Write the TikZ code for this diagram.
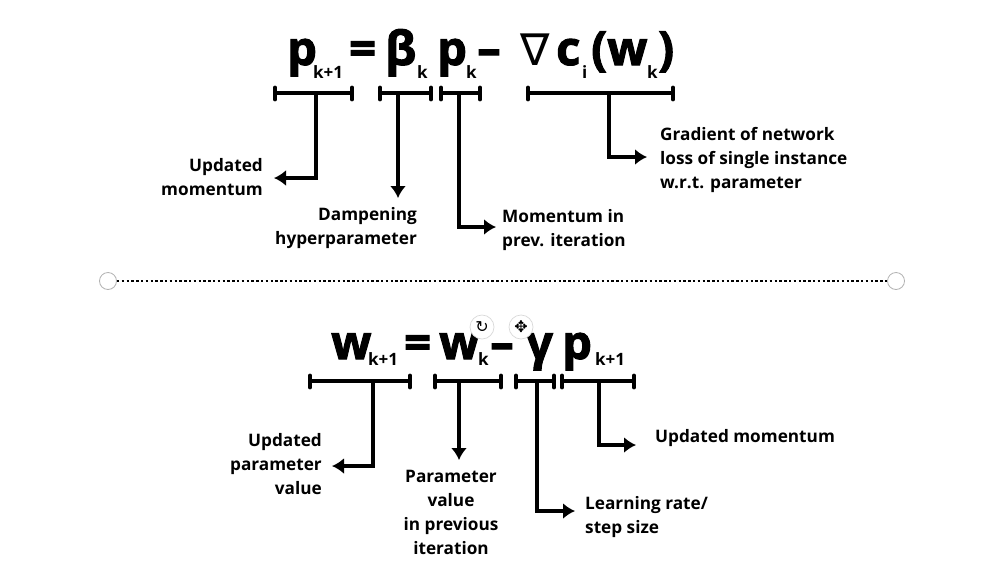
\documentclass[tikz,border=0pt]{standalone}
\usepackage{fontspec}
\usetikzlibrary{arrows.meta}
\setmainfont{Open Sans}
\newfontfamily\eqfont[BoldFeatures={FakeBold=2.2}]{Open Sans}
\newfontfamily\nablafont{DejaVu Sans}
\begin{document}
\begin{tikzpicture}[x=1pt,y=-1pt,
  eqbig/.style={inner sep=0pt,anchor=base west,font=\eqfont\bfseries\fontsize{47}{47}\selectfont,text=black},
  eqsub/.style={inner sep=0pt,anchor=base west,font=\bfseries\fontsize{17}{17}\selectfont,text=black},
  note/.style={inner sep=0pt,align=center,font=\bfseries\fontsize{17.2}{23.8}\selectfont,text=black},
  noteleft/.style={note,align=left},
  brace/.style={line width=3.6pt,black},
  tickmark/.style={line width=3.8pt,line cap=round,black},
  lead/.style={line width=3.8pt,black,-{Latex[length=12pt,width=16pt]}},
  handle/.style={circle,draw=black!15,fill=white,line width=0.7pt,minimum size=24pt,inner sep=0pt},
  endpt/.style={circle,draw=black!30,fill=white,line width=0.8pt,minimum size=17pt,inner sep=0pt}]
\useasboundingbox (0,0) rectangle (998,579);
\fill[white] (0,0) rectangle (998,579);
% ---- first equation
\node[eqbig] (p1) at (287,65) {p};
\node[eqsub] (s1) at (313,78) {k+1};
\node[eqbig] (e1) at (349,65) {=};
\node[eqbig] (b1) at (385,65) {β};
\node[eqsub] (s2) at (417,78) {k};
\node[eqbig] (p2) at (437,65) {p};
\node[eqsub] (s3) at (466,78) {k};
\node[eqbig] (m1) at (477,65) {–};
\node[inner sep=0pt,anchor=base west,font=\nablafont\fontsize{44}{44}\selectfont] (n1) at (520,65) {∇};
\node[eqbig] (c1) at (556,65) {c};
\node[eqsub] (s4) at (582,78) {i};
\node[eqbig] (l1) at (591,65) {(};
\node[eqbig] (w1) at (607,65) {w};
\node[eqsub] (s5) at (647,78) {k};
\node[eqbig] (r1) at (658,65) {)};
% brackets
\foreach \nm/\a/\b/\m in {a/275/352/316,b/380/431/398,c/441/480/459,d/528/673/609}{
  \coordinate (\nm L) at (\a,93); \coordinate (\nm R) at (\b,93); \coordinate (\nm M) at (\m,93);
  \draw[brace] (\nm L) -- (\nm R);
  \draw[tickmark] (\a,87.5) -- (\a,99.5);
  \draw[tickmark] (\b,87.5) -- (\b,99.5);
}
\node[note,align=right,anchor=east] (t1) at (263,177) {Updated\\momentum};
\node[note,align=right,anchor=east] (t2) at (417,228) {Dampening\\hyperparameter};
\node[noteleft,anchor=west] (t3) at (502,230) {Momentum in\\prev. iteration};
\node[noteleft,anchor=west] (t4) at (660,160) {Gradient of network\\loss of single instance\\w.r.t. parameter};
\coordinate (j1) at (316,178);
\coordinate (j3) at (459,227);
\coordinate (j4) at (609,157);
\draw[lead] (aM) -- (j1) -- (274,178);
\draw[lead] (bM) -- (398,198);
\draw[lead] (cM) -- (j3) -- (496,227);
\draw[lead] (dM) -- (j4) -- (647,157);
% ---- divider
\node[endpt] (dl) at (108,281) {};
\node[endpt] (dr) at (896,281) {};
\draw[line width=2.4pt,dash pattern=on 2.4pt off 2.4pt,black] (dl) -- (dr);
% ---- second equation
\node[eqbig] (w2) at (331,359) {w};
\node[eqsub] (s6) at (368,365) {k+1};
\node[eqbig] (e2) at (404,359) {=};
\node[eqbig] (w3) at (439,359) {w};
\node[eqsub] (s7) at (478,365) {k};
\node[eqbig] (m2) at (490,359) {–};
\node[eqbig] (g1) at (526,359) {γ};
\node[eqbig] (p3) at (562,359) {p};
\node[eqsub] (s8) at (595,365) {k+1};
\node[handle] (h1) at (482,327) {};
\node[handle] (h2) at (521,327) {};
\node[font=\nablafont\fontsize{16}{16}\selectfont,inner sep=0pt] (h1g) at (h1) {↻};
\node[font=\nablafont\fontsize{16}{16}\selectfont,inner sep=0pt] (h2g) at (h2) {✥};
\foreach \nm/\a/\b/\m in {e/310/410/373,f/435/501/459,g/516/554/537,h/562/634/599}{
  \coordinate (\nm L) at (\a,381); \coordinate (\nm R) at (\b,381); \coordinate (\nm M) at (\m,381);
  \draw[brace] (\nm L) -- (\nm R);
  \draw[tickmark] (\a,375.5) -- (\a,387.5);
  \draw[tickmark] (\b,375.5) -- (\b,387.5);
}
\node[note,align=right,anchor=east] (t5) at (322,464) {Updated\\parameter\\value};
\node[note] (t6) at (451,512.5) {Parameter\\value\\in previous\\iteration};
\node[noteleft,anchor=west] (t7) at (585,517) {Learning rate/\\step size};
\node[noteleft,anchor=west] (t8) at (655,438) {Updated momentum};
\coordinate (j5) at (373,466);
\coordinate (j7) at (537,511);
\coordinate (j8) at (599,445);
\draw[lead] (eM) -- (j5) -- (332,466);
\draw[lead] (fM) -- (459,460);
\draw[lead] (gM) -- (j7) -- (575,511);
\draw[lead] (hM) -- (j8) -- (636,445);
\end{tikzpicture}
\end{document}
